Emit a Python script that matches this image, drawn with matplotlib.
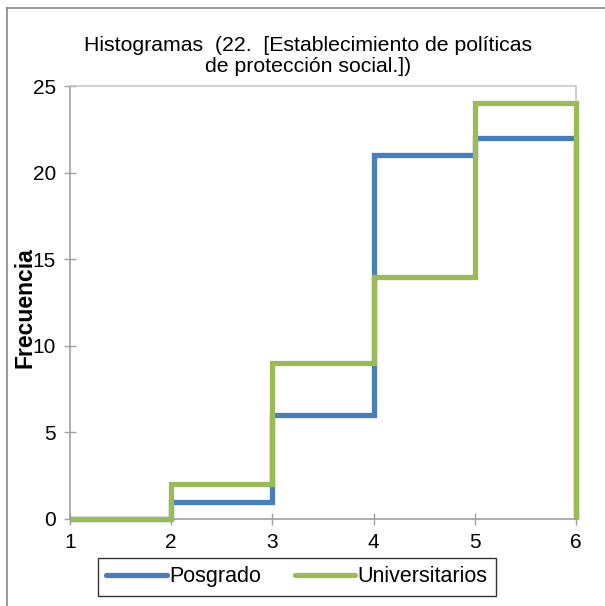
import matplotlib.pyplot as plt
from matplotlib.lines import Line2D

plt.rcParams['font.family'] = ['Liberation Sans', 'DejaVu Sans']

# Bin edges and counts per group
bin_edges = [1, 2, 3, 4, 5, 6]
posgrado = [0, 1, 6, 21, 22]
universitarios = [0, 2, 9, 14, 24]
series_names = ['Posgrado', 'Universitarios']
series_colors = ['#4A7EBB', '#9BBB59']

fig = plt.figure(figsize=(6.05, 6.06), dpi=100)
ax = fig.add_axes([0.1157, 0.1436, 0.8363, 0.7144])

handles = []
for vals, name, color in zip([posgrado, universitarios], series_names, series_colors):
    st = ax.stairs(vals, bin_edges, baseline=0, color=color, linewidth=3.8, zorder=3)
    st.set_clip_on(False)
    handles.append(Line2D([0], [0], color=color, linewidth=3.8,
                          solid_capstyle='round', label=name))

ax.set_xlim(1, 6)
ax.set_ylim(0, 25)
ax.set_xticks(bin_edges)
ax.set_yticks([0, 5, 10, 15, 20, 25])
ax.tick_params(axis='both', direction='inout', length=8, width=1,
               color='#A0A0A0', labelsize=15, pad=6)
for side in ['left', 'bottom']:
    ax.spines[side].set_color('#A0A0A0')
    ax.spines[side].set_linewidth(1.2)
for side in ['top', 'right']:
    ax.spines[side].set_color('#C8C8C8')
    ax.spines[side].set_linewidth(1.2)

fig.text(0.51, 0.908, 'Histogramas  (22.  [Establecimiento de políticas\nde protección social.])',
         ha='center', va='center', fontsize=15.3, linespacing=1.12)

fig.text(0.041, 0.493, 'Frecuencia', rotation=90, ha='center', va='center',
         fontsize=16.5, fontweight='bold')

leg = fig.legend(handles=handles, loc='center', bbox_to_anchor=(0.491, 0.048),
                 ncol=2, fontsize=15.5, frameon=True, fancybox=False,
                 edgecolor='black', handlelength=2.8, handletextpad=0.1,
                 columnspacing=1.6, borderpad=0.4)
leg.get_frame().set_linewidth(1.0)

# outer chart border (left and top edges visible)
fig.add_artist(Line2D([0.0116, 0.0116], [0.0, 0.987], color='#888888', linewidth=1.2))
fig.add_artist(Line2D([0.0116, 1.0], [0.987, 0.987], color='#888888', linewidth=1.2))

fig.savefig('out.png', dpi=100)
